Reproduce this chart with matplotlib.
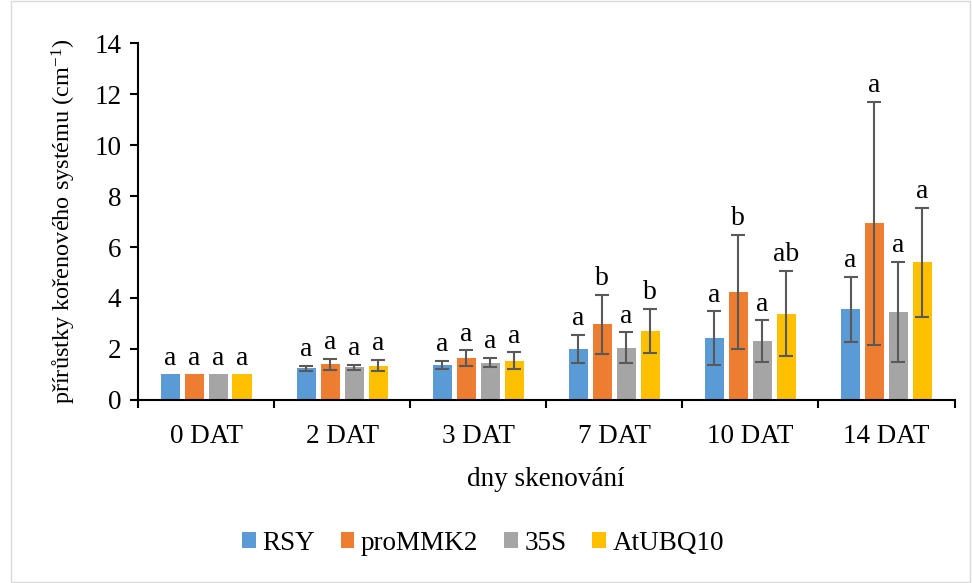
import numpy as np
import matplotlib.pyplot as plt
from matplotlib.patches import Rectangle

plt.rcParams['font.family'] = ['Liberation Serif', 'DejaVu Serif']
plt.rcParams['mathtext.default'] = 'regular'

days = ['0 DAT', '2 DAT', '3 DAT', '7 DAT', '10 DAT', '14 DAT']
series = ['RSY', 'proMMK2', '35S', 'AtUBQ10']
colors = ['#5B9BD5', '#ED7D31', '#A5A5A5', '#FFC000']

rsy = [1.0, 1.25, 1.37, 1.99, 2.43, 3.56]
prommk2 = [1.0, 1.40, 1.64, 2.97, 4.24, 6.93]
s35 = [1.0, 1.28, 1.46, 2.05, 2.30, 3.44]
atubq10 = [1.0, 1.35, 1.54, 2.71, 3.39, 5.40]

rsy_err = [0, 0.10, 0.17, 0.55, 1.05, 1.28]
prommk2_err = [0, 0.21, 0.30, 1.16, 2.24, 4.78]
s35_err = [0, 0.10, 0.18, 0.60, 0.82, 1.97]
atubq10_err = [0, 0.21, 0.33, 0.86, 1.67, 2.13]

rsy_lab = ['a', 'a', 'a', 'a', 'a', 'a']
prommk2_lab = ['a', 'a', 'a', 'b', 'b', 'a']
s35_lab = ['a', 'a', 'a', 'a', 'a', 'a']
atubq10_lab = ['a', 'a', 'a', 'b', 'ab', 'a']

values = [rsy, prommk2, s35, atubq10]
errors = [rsy_err, prommk2_err, s35_err, atubq10_err]
letters = [rsy_lab, prommk2_lab, s35_lab, atubq10_lab]

fig = plt.figure(figsize=(9.72, 5.83), dpi=100)
ax = fig.add_axes([0.142, 0.314, 0.840, 0.612])
fig.patches.append(Rectangle((0.011, 0.002), 0.987, 0.996, transform=fig.transFigure,
                             fill=False, edgecolor='#D9D9D9', linewidth=1))

x = np.arange(len(days))
w = 0.14
step = 0.176
for i in range(4):
    pos = x + (i - 1.5) * step
    vals = np.array(values[i])
    errs = np.array(errors[i])
    ax.bar(pos, vals, w, color=colors[i], label=series[i], zorder=2)
    m = errs > 0
    ax.errorbar(pos[m], vals[m], yerr=errs[m], fmt='none', ecolor='#595959',
                elinewidth=1.5, capsize=5, capthick=1.5, zorder=3)
    for j in range(len(days)):
        top = vals[j] + errs[j]
        ax.annotate(letters[i][j], (pos[j], top), xytext=(0, 7), textcoords='offset points',
                    ha='center', va='baseline', fontsize=20)

ax.set_xlim(-0.5, 5.5)
ax.set_ylim(0, 14)
ax.set_yticks(range(0, 15, 2))
ax.set_xticks(np.arange(-0.5, 6, 1))
ax.set_xticklabels([])
ax.set_xticks(x, minor=True)
ax.set_xticklabels(days, minor=True)
ax.tick_params(axis='x', which='minor', length=0, labelsize=19.5, pad=17)
ax.tick_params(axis='x', which='major', length=6, width=1.5)
ax.tick_params(axis='y', length=6, width=1.5, labelsize=19.5, pad=6)
for s in ['top', 'right']:
    ax.spines[s].set_visible(False)
for s in ['left', 'bottom']:
    ax.spines[s].set_linewidth(1.5)

ax.set_xlabel('dny skenování', fontsize=19.5, labelpad=13)
ax.set_ylabel('přírůstky kořenového systému (cm$^{-1}$)', fontsize=17.5, labelpad=12)

fig.legend(loc='lower center', bbox_to_anchor=(0.497, 0.005), ncol=4, frameon=False,
           fontsize=19.5, handlelength=0.5, handleheight=0.5, handletextpad=0.25,
           columnspacing=0.95)

fig.savefig('out.png', dpi=100)
